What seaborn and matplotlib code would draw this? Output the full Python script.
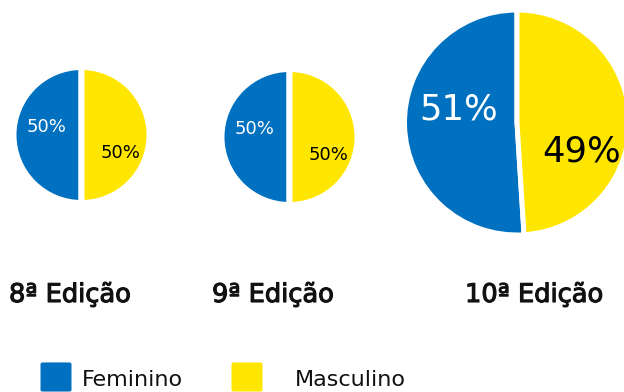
import matplotlib
matplotlib.use("Agg")
import matplotlib.pyplot as plt
import matplotlib.patheffects as pe
from matplotlib.patches import FancyBboxPatch
import seaborn as sns

sns.set_theme(style="white")
plt.rcParams["font.family"] = ["DejaVu Sans"]

# Gender split per edition (percent)
categories = ["Feminino", "Masculino"]
editions = ["8ª Edição", "9ª Edição", "10ª Edição"]
feminino = [50, 50, 51]
masculino = [50, 50, 49]

colors = ["#0070C0", "#FFE600"]
text_colors = ["white", "black"]

W, H = 624, 392
fig = plt.figure(figsize=(W / 100, H / 100), dpi=100)
fig.patch.set_facecolor("white")

# pie layout in pixels: centre x, centre y (from top), radius, label size, edge width
pies = [
    (81.5, 135, 68, 13, 4.3),
    (289.5, 137, 68, 13, 4.3),
    (517, 122.5, 112.5, 25.5, 3.6),
]
label_offsets = [(-0.52, 0.12), (0.57, -0.26)]
title_x = [9, 212, 465]

semi = [pe.withStroke(linewidth=0.8, foreground="#111111")]

for i, (cx, cy, r, fs, lw) in enumerate(pies):
    ax = fig.add_axes([(cx - r) / W, (H - cy - r) / H, 2 * r / W, 2 * r / H])
    vals = [feminino[i], masculino[i]]
    ax.pie(vals, colors=colors, startangle=90, counterclock=True, radius=1,
           wedgeprops=dict(edgecolor="white", linewidth=lw))
    ax.set_xlim(-1, 1)
    ax.set_ylim(-1, 1)
    ax.set_aspect("equal")
    ax.axis("off")
    for v, (ox, oy), tc in zip(vals, label_offsets, text_colors):
        ax.text(ox, oy, f"{v}%", ha="center", va="center", color=tc, fontsize=fs)
    fig.text(title_x[i] / W, 1 - 295 / H, editions[i], ha="left", va="center",
             fontsize=18.5, color="#111111", path_effects=semi)

# legend swatches
legend_sq_x = [41, 232]
legend_txt_x = [82, 295]
for cat, col, sx, tx in zip(categories, colors, legend_sq_x, legend_txt_x):
    fig.patches.append(FancyBboxPatch(((sx + 2) / W, 2 / H), 26 / W, 26 / H,
                                      boxstyle="round,pad=0.004",
                                      transform=fig.transFigure,
                                      facecolor=col, edgecolor="none"))
    fig.text(tx / W, 1 - 380 / H, cat, ha="left", va="center",
             fontsize=16, color="#111111")

fig.savefig("out.png", dpi=100, facecolor="white")
